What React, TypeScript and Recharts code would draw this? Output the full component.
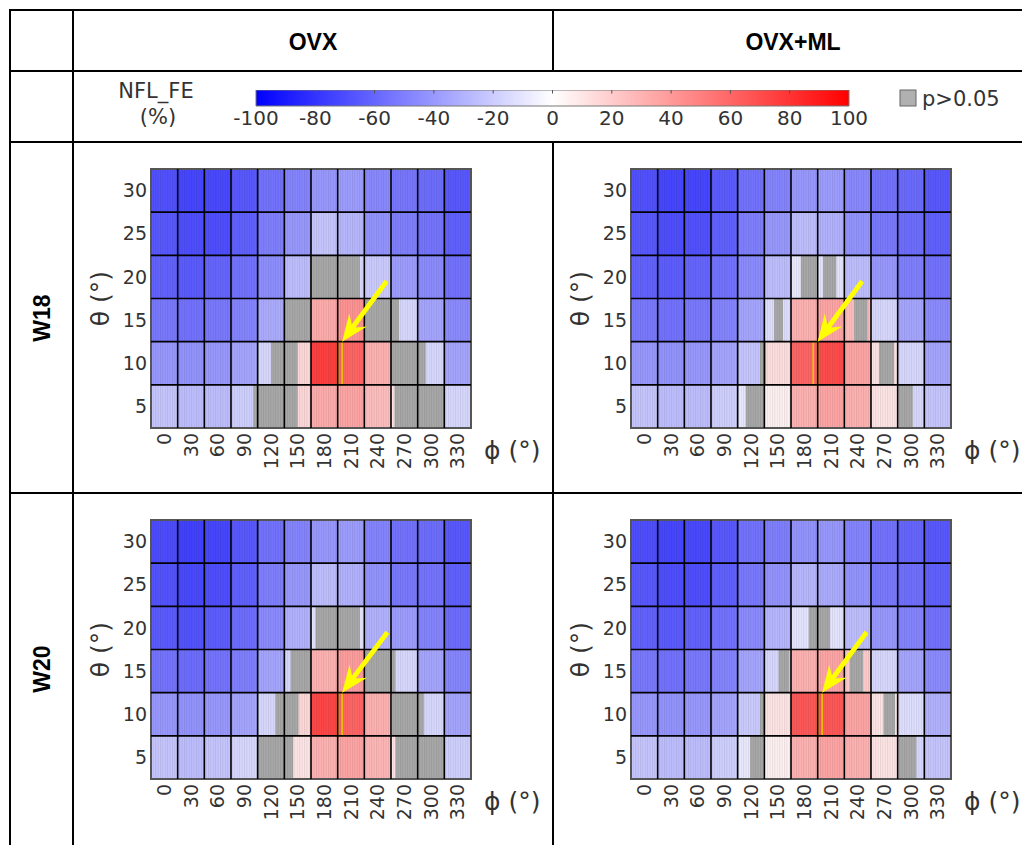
import React from 'react';
import { ComposedChart, Scatter, XAxis, YAxis, ReferenceArea, ReferenceLine } from 'recharts';

const FONT = '"DejaVu Sans", Verdana, sans-serif';
const HEAD_FONT = '"Liberation Sans", Arial, sans-serif';

const PHI_TICKS = [0, 30, 60, 90, 120, 150, 180, 210, 240, 270, 300, 330];
const THETA_TICKS = [5, 10, 15, 20, 25, 30];
const THETA_ROWS = [30, 25, 20, 15, 10, 5];
const CBAR_TICKS = [-100, -80, -60, -40, -20, 0, 20, 40, 60, 80, 100];

// NFL_FE (%) per cell, rows theta 30 -> 5, columns phi 0 -> 330
const OVX_W18 = [
  [-68, -72, -71, -65, -55, -48, -40, -38, -46, -53, -57, -65],
  [-65, -69, -69, -62, -50, -40, -22, -28, -42, -50, -54, -62],
  [-61, -64, -60, -55, -44, -25, -10, -15, -20, -38, -45, -55],
  [-52, -55, -52, -48, -32, -10, 32, 42, 10, -15, -35, -45],
  [-40, -42, -40, -35, -15, 15, 75, 60, 30, 5, -15, -35],
  [-22, -25, -25, -18, -10, 15, 32, 35, 25, 10, -10, -15],
];
const OVX_ML_W18 = [
  [-68, -72, -72, -64, -55, -48, -40, -38, -46, -55, -58, -65],
  [-65, -69, -68, -62, -50, -40, -25, -30, -42, -52, -57, -62],
  [-61, -63, -60, -55, -45, -25, -8, -10, -25, -40, -50, -55],
  [-52, -55, -52, -48, -35, -12, 30, 35, 25, -15, -35, -45],
  [-40, -42, -40, -35, -22, 12, 60, 70, 35, 10, -15, -35],
  [-22, -25, -25, -18, -8, 5, 30, 35, 30, 10, -15, -22],
];
const OVX_W20 = [
  [-70, -74, -72, -65, -55, -48, -40, -38, -48, -55, -57, -65],
  [-67, -71, -69, -62, -50, -40, -25, -30, -42, -52, -54, -62],
  [-64, -67, -63, -57, -45, -30, -10, -10, -30, -38, -48, -57],
  [-54, -57, -54, -50, -35, -15, 30, 38, 15, -15, -35, -47],
  [-40, -42, -40, -35, -15, 15, 72, 60, 30, 5, -15, -35],
  [-22, -25, -22, -15, -10, 10, 30, 35, 28, 10, -10, -18],
];
const OVX_ML_W20 = [
  [-69, -72, -71, -65, -55, -50, -42, -40, -48, -55, -60, -65],
  [-65, -69, -69, -62, -52, -42, -28, -32, -42, -52, -56, -62],
  [-61, -64, -61, -55, -45, -28, -10, -10, -25, -40, -48, -55],
  [-52, -55, -52, -48, -35, -15, 30, 35, 20, -15, -35, -45],
  [-40, -42, -40, -35, -20, 10, 65, 65, 35, 10, -12, -30],
  [-22, -25, -25, -18, -8, 5, 30, 35, 30, 10, -15, -22],
];

// p>0.05 spans: [theta, phi from, phi to]
const OVX_W18_NS = [[20, 164, 220], [15, 135, 165], [15, 225, 264], [10, 120, 150], [10, 255, 294], [5, 100, 150], [5, 259, 315]];
const OVX_ML_W18_NS = [[20, 176, 194], [20, 201, 216], [15, 146, 156], [15, 236, 251], [10, 130, 137], [10, 264, 281], [5, 114, 135], [5, 286, 302]];
const OVX_W20_NS = [[20, 170, 220], [15, 142, 165], [15, 225, 260], [10, 125, 151], [10, 256, 292], [5, 105, 145], [5, 260, 315]];
const OVX_ML_W20_NS = [[20, 185, 209], [15, 151, 163], [15, 231, 246], [10, 130, 136], [10, 269, 282], [5, 119, 134], [5, 286, 306]];

// highlighted bin [theta, phi from, phi to] and arrow [tail phi, tail theta, tip phi, tip theta]
const OVX_W18_MARK = [10, 195, 200];
const OVX_ML_W18_MARK = [10, 190, 195];
const OVX_W20_MARK = [10, 195, 200];
const OVX_ML_W20_MARK = [10, 195, 200];
const OVX_W18_ARROW = [250, 19.5, 200, 12.5];
const OVX_ML_W18_ARROW = [245, 19.5, 195, 12.5];
const OVX_W20_ARROW = [251, 19.5, 200, 12.5];
const OVX_ML_W20_ARROW = [250, 19.5, 200, 12.5];

function fe2color(v: number) {
  const t = Math.min(Math.abs(v), 100) / 100;
  const c = Math.round(255 * (1 - t));
  return v < 0 ? `rgb(${c},${c},255)` : `rgb(255,${c},${c})`;
}

const Arrow = (p: any) => {
  const { x1, y1, x2, y2 } = p;
  const L = Math.hypot(x2 - x1, y2 - y1);
  const ux = (x2 - x1) / L, uy = (y2 - y1) / L;
  const nx = -uy, ny = ux;
  const head = 27, hw = 11, sw = 2.4;
  const bx = x2 - ux * head, by = y2 - uy * head;
  const mx = x2 - ux * head * 0.72, my = y2 - uy * head * 0.72;
  const pts = [
    [x1 + nx * sw, y1 + ny * sw],
    [mx + nx * sw, my + ny * sw],
    [bx + nx * hw, by + ny * hw],
    [x2, y2],
    [bx - nx * hw, by - ny * hw],
    [mx - nx * sw, my - ny * sw],
    [x1 - nx * sw, y1 - ny * sw],
  ];
  return <polygon points={pts.map((q) => q.join(',')).join(' ')} fill="#ffff00" />;
};

const PhiTick = ({ x, y, payload }: any) => (
  <text x={x} y={y} transform={`rotate(-90 ${x} ${y})`} textAnchor="end" dy="0.36em" fontSize={19} fill="#333" fontFamily={FONT}>
    {payload.value}
  </text>
);

function Heatmap({ id, values, ns, mark, arrow, left, top }: any) {
  const cells = THETA_ROWS.flatMap((t, r) => PHI_TICKS.map((p, c) => ({ phi: p, theta: t, v: values[r][c] })));
  return (
    <div style={{ position: 'absolute', left, top }}>
      <ComposedChart width={470} height={323} margin={{ top: 9, right: 75, bottom: 5, left: 0 }} data={cells}>
        <defs>
          <pattern id={`stripes-${id}`} width="2.4" height="8" patternUnits="userSpaceOnUse">
            <rect x="0" y="0" width="1" height="8" fill="#000" fillOpacity="0.09" />
          </pattern>
        </defs>
        <XAxis
          type="number"
          dataKey="phi"
          domain={[-15, 345]}
          ticks={PHI_TICKS}
          interval={0}
          allowDataOverflow
          axisLine={false}
          tickLine={false}
          tickSize={0}
          tickMargin={5}
          height={50}
          tick={<PhiTick />}
          label={{
            content: ({ viewBox }: any) => (
              <text x={viewBox.x + viewBox.width + 13} y={viewBox.y + 22} dy="0.36em" fontSize={25} fill="#333" fontFamily={FONT}>
                ϕ (°)
              </text>
            ),
          }}
        />
        <YAxis
          type="number"
          dataKey="theta"
          domain={[2.5, 32.5]}
          ticks={THETA_TICKS}
          interval={0}
          allowDataOverflow
          axisLine={false}
          tickLine={false}
          tickSize={0}
          tickMargin={4}
          width={75}
          tick={{ fontSize: 19, fill: '#333', fontFamily: FONT }}
          label={{
            content: ({ viewBox }: any) => {
              const lx = viewBox.x + 24;
              const ly = viewBox.y + viewBox.height / 2;
              return (
                <text x={lx} y={ly} transform={`rotate(-90 ${lx} ${ly})`} textAnchor="middle" dy="0.36em" fontSize={25} fill="#333" fontFamily={FONT}>
                  θ (°)
                </text>
              );
            },
          }}
        />
        {cells.map((c, i) => (
          <ReferenceArea key={`c${i}`} x1={c.phi - 15} x2={c.phi + 15} y1={c.theta - 2.5} y2={c.theta + 2.5} fill={fe2color(c.v)} fillOpacity={1} stroke="none" ifOverflow="visible" />
        ))}
        {ns.map((g: number[], i: number) => (
          <ReferenceArea key={`g${i}`} x1={g[1]} x2={g[2]} y1={g[0] - 2.5} y2={g[0] + 2.5} fill="#a9a9a9" fillOpacity={1} stroke="none" ifOverflow="visible" />
        ))}
        <ReferenceArea x1={-15} x2={345} y1={2.5} y2={32.5} fill={`url(#stripes-${id})`} fillOpacity={1} stroke="none" ifOverflow="visible" />
        {PHI_TICKS.slice(1).map((p) => (
          <ReferenceLine key={`vx${p}`} x={p - 15} stroke="#000" strokeWidth={1.6} ifOverflow="visible" />
        ))}
        {THETA_TICKS.slice(1).map((t) => (
          <ReferenceLine key={`hy${t}`} y={t - 2.5} stroke="#000" strokeWidth={1.6} ifOverflow="visible" />
        ))}
        <ReferenceArea x1={-15} x2={345} y1={2.5} y2={32.5} fill="none" stroke="#555" strokeWidth={2} ifOverflow="visible" />
        <ReferenceArea x1={mark[1]} x2={mark[2]} y1={mark[0] - 2.5} y2={mark[0] + 2.5} fill="none" stroke="#e8c400" strokeWidth={1.6} ifOverflow="visible" />
        <ReferenceLine segment={[{ x: arrow[0], y: arrow[1] }, { x: arrow[2], y: arrow[3] }]} shape={Arrow} ifOverflow="visible" />
        <Scatter data={cells} dataKey="theta" fill="none" isAnimationActive={false} legendType="none" />
      </ComposedChart>
    </div>
  );
}

function ColorBar() {
  const pts = CBAR_TICKS.map((t) => ({ x: t, y: 0.5 }));
  return (
    <div style={{ position: 'absolute', left: 206, top: 90 }}>
      <ComposedChart width={680} height={50} margin={{ top: 0, right: 37, bottom: 0, left: 50 }} data={pts}>
        <defs>
          <linearGradient id="cbar" x1="0" y1="0" x2="1" y2="0">
            <stop offset="0%" stopColor="#0000ff" />
            <stop offset="50%" stopColor="#ffffff" />
            <stop offset="100%" stopColor="#ff0000" />
          </linearGradient>
        </defs>
        <XAxis
          type="number"
          dataKey="x"
          domain={[-100, 100]}
          ticks={CBAR_TICKS}
          interval={0}
          axisLine={false}
          tickLine={false}
          tickSize={0}
          tickMargin={5}
          height={34}
          tick={{ fontSize: 20, fill: '#333', fontFamily: FONT }}
        />
        <YAxis type="number" dataKey="y" domain={[0, 1]} hide />
        <ReferenceArea x1={-100} x2={100} y1={0} y2={1} fill="url(#cbar)" fillOpacity={1} stroke="#777" strokeWidth={1} ifOverflow="visible" />
        {CBAR_TICKS.slice(1, -1).map((t) => (
          <ReferenceLine key={t} segment={[{ x: t, y: 1 }, { x: t, y: 0.78 }]} stroke="#555" strokeWidth={1} ifOverflow="visible" />
        ))}
        <Scatter data={pts} dataKey="y" fill="none" isAnimationActive={false} legendType="none" />
      </ComposedChart>
    </div>
  );
}

export default function App() {
  const ln = { stroke: '#000', strokeWidth: 2 };
  return (
    <div style={{ position: 'absolute', left: 0, top: 0, width: 1022, height: 845, overflow: 'hidden', background: '#fff' }}>
      <svg width={1022} height={845} style={{ position: 'absolute', left: 0, top: 0 }}>
        <line x1={9} y1={10} x2={1022} y2={10} {...ln} />
        <line x1={9} y1={71} x2={1022} y2={71} {...ln} />
        <line x1={9} y1={142} x2={1022} y2={142} {...ln} />
        <line x1={9} y1={493} x2={1022} y2={493} {...ln} />
        <line x1={10} y1={9} x2={10} y2={845} {...ln} />
        <line x1={73} y1={9} x2={73} y2={845} {...ln} />
        <line x1={553} y1={9} x2={553} y2={71} {...ln} />
        <line x1={553} y1={142} x2={553} y2={845} {...ln} />
        <text x={313} y={42} dy="0.36em" textAnchor="middle" fontSize={23} fontWeight="bold" fontFamily={HEAD_FONT}>OVX</text>
        <text x={793} y={42} dy="0.36em" textAnchor="middle" fontSize={23} fontWeight="bold" fontFamily={HEAD_FONT}>OVX+ML</text>
        <text x={42} y={318} dy="0.36em" transform="rotate(-90 42 318)" textAnchor="middle" fontSize={23} fontWeight="bold" fontFamily={HEAD_FONT}>W18</text>
        <text x={42} y={669} dy="0.36em" transform="rotate(-90 42 669)" textAnchor="middle" fontSize={23} fontWeight="bold" fontFamily={HEAD_FONT}>W20</text>
        <text x={156} y={98} textAnchor="middle" fontSize={21} fill="#333" fontFamily={FONT}>NFL_FE</text>
        <text x={158} y={124} textAnchor="middle" fontSize={21} fill="#333" fontFamily={FONT}>(%)</text>
        <rect x={900} y={90} width={16} height={16} fill="#b0b0b0" stroke="#666" strokeWidth={1} />
        <text x={922} y={106} fontSize={21} fill="#333" fontFamily={FONT}>p&gt;0.05</text>
      </svg>
      <ColorBar />
      <Heatmap id="a" values={OVX_W18} ns={OVX_W18_NS} mark={OVX_W18_MARK} arrow={OVX_W18_ARROW} left={76} top={160} />
      <Heatmap id="b" values={OVX_ML_W18} ns={OVX_ML_W18_NS} mark={OVX_ML_W18_MARK} arrow={OVX_ML_W18_ARROW} left={556} top={160} />
      <Heatmap id="c" values={OVX_W20} ns={OVX_W20_NS} mark={OVX_W20_MARK} arrow={OVX_W20_ARROW} left={76} top={511} />
      <Heatmap id="d" values={OVX_ML_W20} ns={OVX_ML_W20_NS} mark={OVX_ML_W20_MARK} arrow={OVX_ML_W20_ARROW} left={556} top={511} />
    </div>
  );
}
